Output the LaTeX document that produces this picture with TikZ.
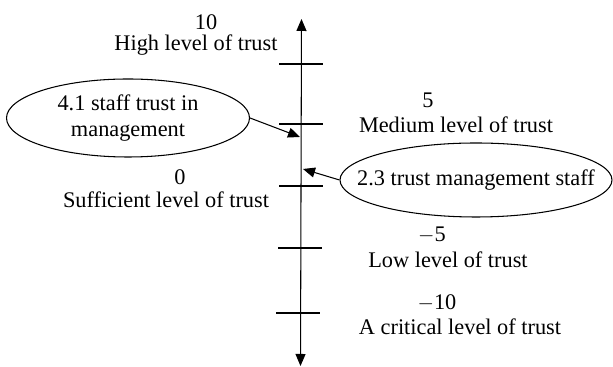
\documentclass[tikz,border=0pt]{standalone}
\usepackage{fontspec}
\setmainfont{Liberation Serif}
\usetikzlibrary{shapes.geometric,arrows.meta}

\begin{document}
\begin{tikzpicture}[
		font=\fontsize{12.7}{15}\selectfont,
		line width=0.6pt,
		factor/.style={ellipse, draw, inner sep=0pt},
		pointer/.style={-{Triangle[length=2.4mm,width=2mm]}}
	]
		\useasboundingbox (0,0) rectangle (12.26,7.34);

		\coordinate (top) at (6.03,6.96);
		\coordinate (bot) at (6.01,0.02);
		\coordinate (hit1) at (6.00,4.60);
		\coordinate (hit2) at (6.06,3.96);

		\draw [{Triangle[length=2.4mm,width=2mm]}-{Triangle[length=2.4mm,width=2mm]}] (bot) -- (top);
		\draw (5.58,6.06) -- (6.46,6.06);
		\draw (5.58,4.86) -- (6.46,4.86);
		\draw (5.58,3.62) -- (6.46,3.62);
		\draw (5.56,2.38) -- (6.44,2.38);
		\draw (5.52,1.08) -- (6.40,1.08);

		\draw (4.12,6.90) node (n10) {10};
		\draw (3.92,6.44) node (high) {High level of trust};
		\draw (8.56,5.34) node (n5) {5};
		\draw (9.12,4.84) node (medium) {Medium level of trust};
		\draw (3.60,3.80) node (n0) {0};
		\draw (3.32,3.34) node (sufficient) {Sufficient level of trust};
		\draw (8.64,2.64) node (m5) {$-$5};
		\draw (8.96,2.14) node (low) {Low level of trust};
		\draw (8.74,1.28) node (m10) {$-$10};
		\draw (9.20,0.80) node (critical) {A critical level of trust};

		\draw (2.56,4.98) node [factor, minimum width=4.86cm, minimum height=1.56cm] (staff) {};
		\draw (staff) node [align=center] (stafftext) {4.1 staff trust in\\management};
		\draw (9.52,3.74) node [factor, minimum width=5.44cm, minimum height=1.48cm] (mgmt) {};
		\draw (mgmt) node (mgmttext) {2.3 trust management staff};

		\draw
			(staff.east) edge [pointer] (hit1)
			(mgmt.west) edge [pointer] (hit2)
		;
	\end{tikzpicture}
\end{document}
